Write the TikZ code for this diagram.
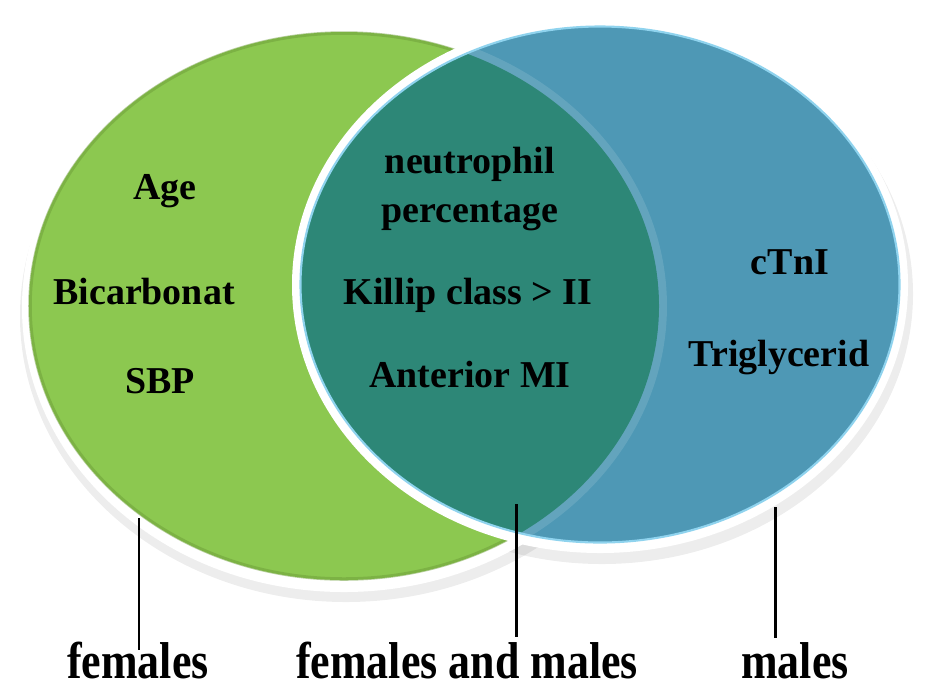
\documentclass[tikz,border=0pt]{standalone}
\usepackage{fontspec}
\setmainfont{Liberation Serif}
\usepackage{tikz}
\usetikzlibrary{positioning}
\definecolor{femgreen}{HTML}{8CC850}
\definecolor{femrim}{HTML}{6E9E3A}
\definecolor{malblue}{HTML}{4E98B5}
\definecolor{malrim}{HTML}{8FD3EE}
\definecolor{bothteal}{HTML}{2D8777}
\newcommand{\tallword}[1]{\scalebox{1}[1.18]{#1}}

\begin{document}
\begin{tikzpicture}[
    x=0.02cm, y=-0.02cm,
    item/.style={
        font=\fontsize{21.6}{28}\selectfont\bfseries,
        inner sep=0pt, anchor=base
    },
    tag/.style={
        font=\fontsize{25}{30}\selectfont\bfseries,
        inner sep=0pt, anchor=base
    },
    pointer/.style={line width=1.7pt, black}
]
\useasboundingbox (0,0) rectangle (925,691);

\fill[black, opacity=0.07] (346,316) ellipse [x radius=326, y radius=286];
\fill[black, opacity=0.07] (602,294) ellipse [x radius=311, y radius=270];

\fill[white] (344,307.5) ellipse [x radius=322, y radius=284.5];
\fill[femgreen] (344,306) ellipse [x radius=315, y radius=274];
\draw[femrim, line width=2pt, opacity=0.5] (344,306) ellipse [x radius=314, y radius=273];

\fill[white] (600,285) ellipse [x radius=308, y radius=268];
\fill[malblue] (600,284.5) ellipse [x radius=299, y radius=257.5];
\begin{scope}
    \clip (344,306) ellipse [x radius=315, y radius=274];
    \fill[bothteal] (600,284.5) ellipse [x radius=299, y radius=257.5];
\end{scope}
\begin{scope}
    \clip (600,284.5) ellipse [x radius=299, y radius=257.5];
    \draw[white, opacity=0.12, line width=4.5pt] (344,306) ellipse [x radius=319, y radius=278];
\end{scope}
\draw[malrim, line width=1.2pt] (600,284.5) ellipse [x radius=299.5, y radius=258];

\node[item] (age) at (165,199) {Age};
\node[item] (bic) at (144,304) {Bicarbonat};
\node[item] (sbp) at (160,393) {SBP};

\node[item, align=center, anchor=center] (neu) at (470,189) {neutrophil\\percentage};
\node[item] (kil) at (468,304) {Killip class > II};
\node[item] (ant) at (470,387) {Anterior MI};

\node[item] (ctn) at (790,274) {cTnI};
\node[item] (tri) at (779,366) {Triglycerid};

\node[tag] (fem) at (138,678) {\tallword{females}};
\node[tag] (both) at (467,678) {\tallword{females and males}};
\node[tag] (mal) at (795,678) {\tallword{males}};

\coordinate (pf) at (139,518);
\coordinate (pb) at (516,504);
\coordinate (pm) at (775,507);

\draw[pointer, shorten >=-0.18cm] (pf) -- (pf |- fem.north);
\draw[pointer, shorten >=0.08cm] (pb) -- (pb |- both.north);
\draw[pointer, shorten >=0.08cm] (pm) -- (pm |- mal.north);
\end{tikzpicture}
\end{document}
